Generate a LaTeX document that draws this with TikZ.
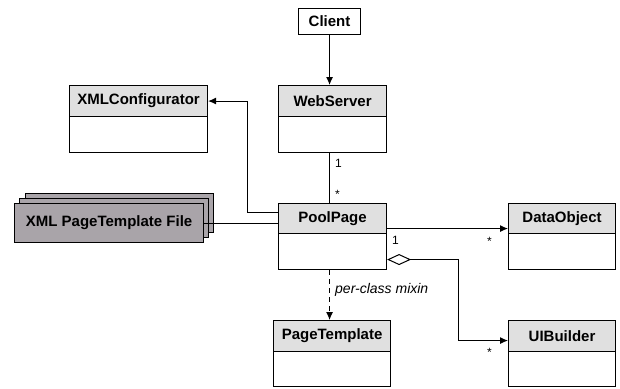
\documentclass[tikz,border=0pt]{standalone}
\usepackage{fontspec}
\setmainfont{Liberation Sans}
\usetikzlibrary{arrows.meta}
\definecolor{hdrgray}{HTML}{E0E0E0}
\definecolor{filegray}{HTML}{A9A4A9}
\tikzset{
  hdr/.style={draw, fill=hdrgray, line width=1.1pt, inner sep=0pt, anchor=north west,
    font=\fontsize{15}{18}\selectfont\bfseries},
  bodybox/.style={draw, fill=white, line width=1.1pt, inner sep=0pt, anchor=north west},
  filebox/.style={draw, fill=filegray, line width=1.1pt, inner sep=0pt, anchor=north west,
    font=\fontsize{15}{18}\selectfont\bfseries},
  conn/.style={line width=1pt},
  arr/.style={conn, -{Latex[length=8pt,width=7pt]}},
  mult/.style={font=\fontsize{12}{14}\selectfont, inner sep=0pt, anchor=west},
}
\begin{document}
\begin{tikzpicture}[x=1pt,y=-1pt]
\useasboundingbox (0,0) rectangle (620,388);
% Client
\node[hdr, fill=white, minimum width=62pt, minimum height=26pt] (cl) at (298,8) {Client};
% WebServer
\node[hdr, minimum width=108pt, minimum height=31pt] (ws) at (278,85) {WebServer};
\node[bodybox, minimum width=108pt, minimum height=36pt] (wsb) at (278,116) {};
% XMLConfigurator
\node[hdr, minimum width=138pt, minimum height=31pt] (xc) at (69,85) {XMLConfigurator};
\node[bodybox, minimum width=138pt, minimum height=36pt] (xcb) at (69,116) {};
% PoolPage
\node[hdr, minimum width=108pt, minimum height=30pt] (pp) at (278,203) {PoolPage};
\node[bodybox, minimum width=108pt, minimum height=36pt] (ppb) at (278,233) {};
% DataObject
\node[hdr, minimum width=107pt, minimum height=30pt] (do) at (508,203) {DataObject};
\node[bodybox, minimum width=107pt, minimum height=36pt] (dob) at (508,233) {};
% PageTemplate
\node[hdr, minimum width=117pt, minimum height=31pt] (pt) at (273,320) {PageTemplate};
\node[bodybox, minimum width=117pt, minimum height=35pt] (ptb) at (273,351) {};
% UIBuilder
\node[hdr, minimum width=107pt, minimum height=31pt] (ui) at (508,320) {UIBuilder};
\node[bodybox, minimum width=107pt, minimum height=35pt] (uib) at (508,351) {};
% XML PageTemplate File (stack)
\node[filebox, minimum width=188pt, minimum height=39pt] (xf3) at (25,193) {};
\node[filebox, minimum width=189pt, minimum height=39pt] (xf2) at (19,198) {};
\node[filebox, minimum width=189pt, minimum height=39pt] (xf) at (14,203) {XML PageTemplate File};
% connectors
\draw[arr] (cl.south) -- (cl.south |- ws.north);
\draw[conn] (wsb.south -| cl.south) -- (pp.north -| cl.south);
\node[mult] (m1) at (335,163) {1};
\node[mult] (m2) at (335,194) {*};
\draw[arr] ([yshift=6pt]pp.west) -- ++(-31,0) |- (xc.east);
\draw[conn] ([yshift=-0.5pt]xf.east) -- ([yshift=-0.5pt]xf.east -| pp.west);
\draw[arr] ([yshift=-10pt]pp.east) -- ([yshift=-10pt]do.west);
\node[mult] (m3) at (392,240) {1};
\node[mult] (m4) at (487,241) {*};
\draw[conn, {Diamond[open,length=24pt,width=11pt]}-{Latex[length=8pt,width=7pt]}]
  ([yshift=-8pt]ppb.east) -- ++(71,0) |- ([yshift=-4.5pt]ui.west);
\node[mult] (m5) at (487,352) {*};
\draw[arr, dashed, dash pattern=on 5pt off 4pt] (ppb.south -| cl.south) -- (pt.north -| cl.south);
\node[mult, font=\fontsize{14}{16}\selectfont\itshape] (lbl) at (335,290) {per-class mixin};
\end{tikzpicture}
\end{document}
